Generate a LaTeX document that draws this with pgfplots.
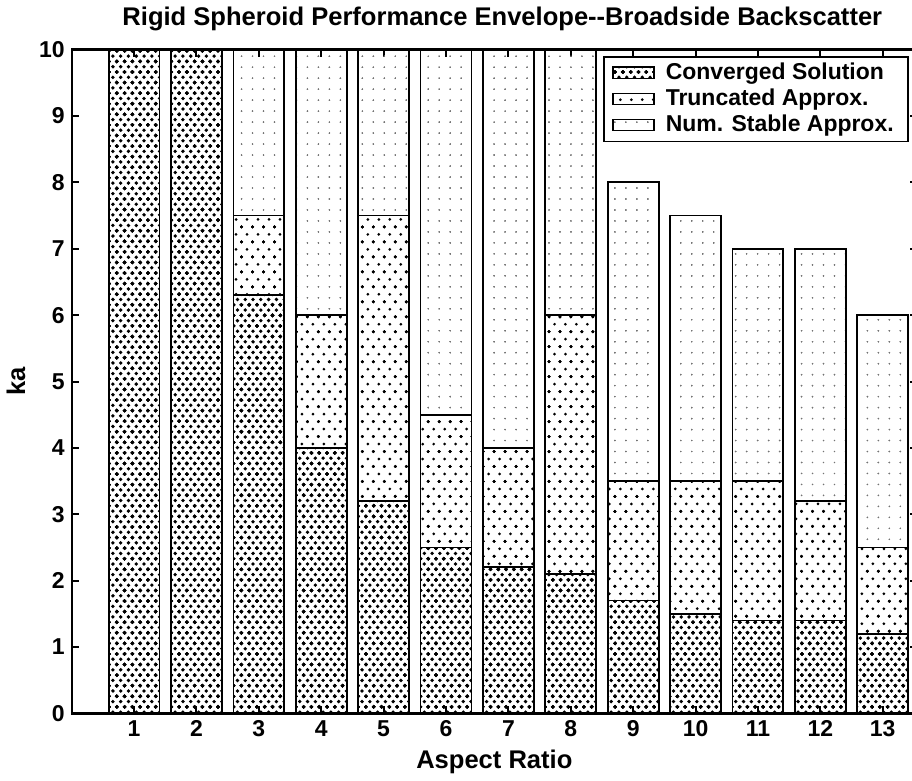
\documentclass[border=0pt]{standalone}
\usepackage{fontspec}
\setmainfont{Liberation Sans}
\usepackage{pgfplots}
\usepackage{pgfplotstable}
\pgfplotsset{compat=1.18}
\usetikzlibrary{patterns,calc}

% dense dots: converged solution
\pgfdeclarepatternformonly{conv}{\pgfqpoint{-1.2pt}{-1.2pt}}{\pgfqpoint{5.1pt}{6.5pt}}{\pgfqpoint{3.9pt}{5.3pt}}{%
  \pgfpathcircle{\pgfqpoint{0pt}{0pt}}{0.95pt}
  \pgfpathcircle{\pgfqpoint{3.9pt}{0pt}}{0.95pt}
  \pgfpathcircle{\pgfqpoint{0pt}{5.3pt}}{0.95pt}
  \pgfpathcircle{\pgfqpoint{3.9pt}{5.3pt}}{0.95pt}
  \pgfpathcircle{\pgfqpoint{1.95pt}{2.65pt}}{0.95pt}
  \pgfusepath{fill}}
% medium dots: truncated approx
\pgfdeclarepatternformonly{trunc}{\pgfqpoint{-1pt}{-1pt}}{\pgfqpoint{6.5pt}{8.5pt}}{\pgfqpoint{5.5pt}{7.5pt}}{%
  \pgfpathcircle{\pgfqpoint{0pt}{0pt}}{0.75pt}
  \pgfpathcircle{\pgfqpoint{5.5pt}{0pt}}{0.75pt}
  \pgfpathcircle{\pgfqpoint{0pt}{7.5pt}}{0.75pt}
  \pgfpathcircle{\pgfqpoint{5.5pt}{7.5pt}}{0.75pt}
  \pgfpathcircle{\pgfqpoint{2.75pt}{3.75pt}}{0.75pt}
  \pgfusepath{fill}}
% sparse faint dots: numerically stable approx
\pgfdeclarepatternformonly{stab}{\pgfqpoint{-1pt}{-1pt}}{\pgfqpoint{6.5pt}{6.5pt}}{\pgfqpoint{5.5pt}{5.5pt}}{%
  \pgfpathcircle{\pgfqpoint{0pt}{0pt}}{0.35pt}
  \pgfpathcircle{\pgfqpoint{5.5pt}{0pt}}{0.35pt}
  \pgfpathcircle{\pgfqpoint{0pt}{5.5pt}}{0.35pt}
  \pgfpathcircle{\pgfqpoint{5.5pt}{5.5pt}}{0.35pt}
  \pgfusepath{fill}}

% increments per aspect ratio (tops above 10 run off the plot)
\pgfplotstableread{
x  conv trunc stab
1  12   0    0
2  12   0    0
3  6.3  1.2  4.5
4  4.0  2.0  6.0
5  3.2  4.3  4.5
6  2.5  2.0  7.5
7  2.2  1.8  8.0
8  2.1  3.9  6.0
9  1.7  1.8  4.5
10 1.5  2.0  4.0
11 1.4  2.1  3.5
12 1.4  1.8  3.8
13 1.2  1.3  3.5
}\envdata

\pgfplotsset{boxleg/.style={legend image code/.code={%
  \draw[##1,line width=0.8pt] (0pt,-2.6pt) rectangle (20.5pt,3pt);}}}

\begin{document}
\begin{tikzpicture}
\begin{axis}[%
width=423.4pt,
height=332.5pt,
scale only axis,
ybar stacked,
bar width=0.816,
xmin=0, xmax=13.55,
ymin=0, ymax=10,
xtick={1,...,13},
ytick={0,...,10},
tick align=inside,
major tick length=3.5pt,
axis line style={line width=1.2pt},
tick style={line width=1pt, black},
/pgf/number format/assume math mode=true,
ticklabel style={font=\bfseries\fontsize{11.5}{12}\selectfont},
xlabel={Aspect Ratio},
ylabel={ka},
label style={font=\bfseries\fontsize{12.8}{14}\selectfont},
title={Rigid Spheroid Performance Envelope-{}-Broadside Backscatter},
title style={font=\bfseries\fontsize{12.8}{14}\selectfont, xshift=4pt},
legend style={at={(0.99,0.99)}, anchor=north east, draw=black,
  line width=0.9pt, legend cell align=left,
  font=\bfseries\fontsize{11.5}{13}\selectfont,
  inner xsep=4pt, inner ysep=1.5pt, row sep=0pt, column sep=2.5pt,
  nodes={inner xsep=3pt, inner ysep=1.1pt, text height=8.5pt, text depth=2.4pt}}
]
\addplot[pattern=conv, draw=black, line width=0.9pt, boxleg] table[x=x, y=conv] {\envdata};
\addlegendentry{Converged Solution}
\addplot[pattern=trunc, draw=black, line width=0.9pt, boxleg] table[x=x, y=trunc] {\envdata};
\addlegendentry{Truncated Approx.}
\addplot[pattern=stab, pattern color=black!55, draw=black, line width=0.9pt, boxleg] table[x=x, y=stab] {\envdata};
\addlegendentry{Num. Stable Approx.}
\end{axis}
\pgfresetboundingbox
\path[use as bounding box] (current axis.outer south west) rectangle ($(current axis.north east |- current axis.outer north)+(-2.5pt,0)$);
\end{tikzpicture}
\end{document}
